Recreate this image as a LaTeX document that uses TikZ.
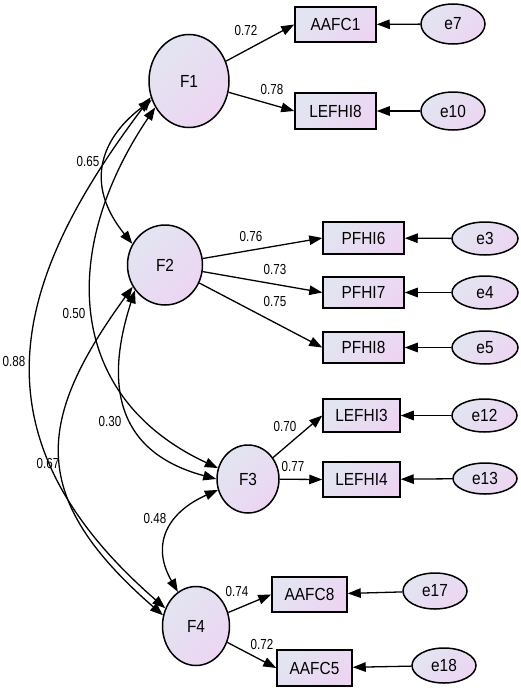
\documentclass[tikz,border=0pt]{standalone}
\usepackage{fontspec}
\setmainfont{Liberation Sans}
\newfontfamily\nfont[FakeStretch=0.88]{Liberation Sans}
\newfontfamily\lfont[FakeStretch=0.8]{Liberation Sans}
\usetikzlibrary{shapes.geometric,arrows.meta}
\definecolor{ca}{RGB}{226,229,241}
\definecolor{cb}{RGB}{237,213,242}
\begin{document}
\begin{tikzpicture}[x=1pt,y=-1pt,
  >={Triangle[length=13pt,width=9.5pt]},
  base/.style={draw,line width=1.5pt,top color=ca,bottom color=cb,shading angle=45,inner sep=0pt,
    font=\nfont\fontsize{17.5}{19}\selectfont},
  lat/.style={base,ellipse},
  obs/.style={base,rectangle},
  err/.style={base,ellipse,minimum width=64pt},
  lab/.style={inner sep=0pt,font=\lfont\fontsize{14.5}{16}\selectfont},
  reg/.style={line width=1.3pt,->},
  cov/.style={line width=1.3pt,<->}]
\useasboundingbox (0,0) rectangle (520,688);

% latent factors
\node[lat,minimum width=80pt,minimum height=93pt] (F1) at (189,81) {F1};
\node[lat,minimum width=75pt,minimum height=80pt] (F2) at (165,265) {F2};
\node[lat,minimum width=62pt,minimum height=68pt] (F3) at (248,479) {F3};
\node[lat,minimum width=67pt,minimum height=79pt] (F4) at (196,626) {F4};

% observed variables
\node[obs,minimum width=81pt,minimum height=35pt] (AAFC1) at (335.5,24.5) {AAFC1};
\node[obs,minimum width=81pt,minimum height=36pt] (LEFHI8) at (335.5,111) {LEFHI8};
\node[obs,minimum width=81pt,minimum height=32pt] (PFHI6) at (363.5,238) {PFHI6};
\node[obs,minimum width=81pt,minimum height=31pt] (PFHI7) at (363.5,292.5) {PFHI7};
\node[obs,minimum width=81pt,minimum height=31pt] (PFHI8) at (363.5,347.5) {PFHI8};
\node[obs,minimum width=77pt,minimum height=33pt] (LEFHI3) at (361.5,415.5) {LEFHI3};
\node[obs,minimum width=77pt,minimum height=35pt] (LEFHI4) at (361.5,479.5) {LEFHI4};
\node[obs,minimum width=75pt,minimum height=35pt] (AAFC8) at (309.5,594.5) {AAFC8};
\node[obs,minimum width=75pt,minimum height=36pt] (AAFC5) at (314.5,668) {AAFC5};

% errors
\node[err,minimum height=40pt] (e7) at (453,24) {e7};
\node[err,minimum height=38pt] (e10) at (453,111) {e10};
\node[err,minimum width=66pt,minimum height=33pt] (e3) at (485,238.5) {e3};
\node[err,minimum width=66pt,minimum height=33pt] (e4) at (485,292.5) {e4};
\node[err,minimum width=66pt,minimum height=33pt] (e5) at (485,347.5) {e5};
\node[err,minimum width=65pt,minimum height=33pt] (e12) at (484.5,415.5) {e12};
\node[err,minimum height=31pt] (e13) at (485,478.5) {e13};
\node[err,minimum height=36pt] (e17) at (435,591) {e17};
\node[err,minimum height=35pt] (e18) at (444,665.5) {e18};

% loadings
\draw[reg] (F1) -- (AAFC1.west);
\draw[reg] (F1) -- (LEFHI8.west);
\draw[reg] (F2) -- (PFHI6.west);
\draw[reg] (F2) -- (PFHI7.west);
\draw[reg] (F2) -- (PFHI8.west);
\draw[reg] (F3) -- (LEFHI3.west);
\draw[reg] (F3) -- (LEFHI4.west);
\draw[reg] (F4) -- (AAFC8.west);
\draw[reg] (F4) -- (AAFC5.west);

% error arrows
\draw[reg] (e7) -- (AAFC1);
\draw[reg] (e10) -- (LEFHI8);
\draw[reg] (e3) -- (PFHI6);
\draw[reg] (e4) -- (PFHI7);
\draw[reg] (e5) -- (PFHI8);
\draw[reg] (e12) -- (LEFHI3);
\draw[reg] (e13) -- (LEFHI4);
\draw[reg] (e17) -- (AAFC8);
\draw[reg] (e18) -- (AAFC5);

% covariances
\draw[cov] (F1.203) to[out=233,in=139,out distance=220pt,in distance=270pt] (F4.150);
\draw[cov] (F1.207) to[out=217,in=129,out distance=60pt,in distance=80pt] (F2.147);
\draw[cov] (F1.218) to[out=236,in=155,out distance=170pt,in distance=170pt] (F3.160);
\draw[cov] (F2.220) to[out=252,in=165,out distance=90pt,in distance=110pt] (F3.180);
\draw[cov] (F2.214) to[out=234,in=139,out distance=165pt,in distance=180pt] (F4.162);
\draw[cov] (F3.200) to[out=204,in=120,out distance=55pt,in distance=55pt] (F4.118);

% labels
\node[lab] (l1) at (246,31) {0.72};
\node[lab] (l2) at (272,90) {0.78};
\node[lab] (l3) at (251,237) {0.76};
\node[lab] (l4) at (275,270) {0.73};
\node[lab] (l5) at (275,302) {0.75};
\node[lab] (l6) at (285,427) {0.70};
\node[lab] (l7) at (293,467) {0.77};
\node[lab] (l8) at (237,592) {0.74};
\node[lab] (l9) at (262,645) {0.72};
\node[lab] (l10) at (88,162) {0.65};
\node[lab] (l11) at (74,314) {0.50};
\node[lab] (l12) at (14,362) {0.88};
\node[lab] (l13) at (110,422) {0.30};
\node[lab] (l14) at (48,464) {0.67};
\node[lab] (l15) at (155,519) {0.48};
\end{tikzpicture}
\end{document}
